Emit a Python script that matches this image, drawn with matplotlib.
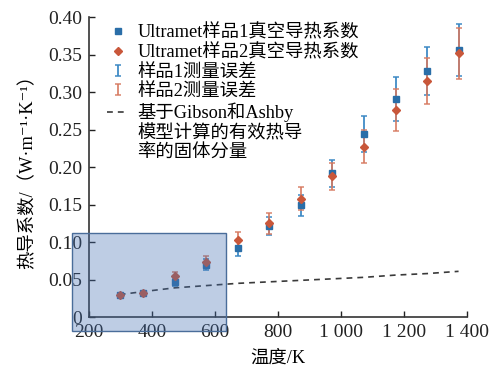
import numpy as np
import matplotlib
matplotlib.use("Agg")
import matplotlib.pyplot as plt
from matplotlib.patches import Rectangle
from matplotlib.lines import Line2D
from matplotlib.container import ErrorbarContainer
from matplotlib.legend_handler import HandlerErrorbar

plt.rcParams['font.family'] = ['Liberation Serif', 'Noto Sans CJK SC', 'DejaVu Sans']
plt.rcParams['axes.unicode_minus'] = False

# temperature (K)
temps = [298, 373, 473, 573, 673, 773, 873, 973, 1073, 1173, 1273, 1373]
# sample 1 / sample 2 vacuum thermal conductivity and errors
k1 = [0.029, 0.032, 0.047, 0.070, 0.092, 0.121, 0.149, 0.192, 0.244, 0.291, 0.328, 0.356]
k1_err = [0.003, 0.003, 0.005, 0.007, 0.010, 0.012, 0.014, 0.018, 0.024, 0.029, 0.032, 0.035]
k2 = [0.029, 0.032, 0.055, 0.074, 0.103, 0.125, 0.158, 0.188, 0.227, 0.276, 0.315, 0.352]
k2_err = [0.003, 0.003, 0.005, 0.008, 0.011, 0.014, 0.015, 0.018, 0.022, 0.028, 0.031, 0.034]
# Gibson & Ashby solid component
k_solid = [0.030, 0.034, 0.039, 0.042, 0.045, 0.047, 0.049, 0.051, 0.053, 0.056, 0.058, 0.061]

xticks = [200, 400, 600, 800, 1000, 1200, 1400]
xticklabels = ['200', '400', '600', '800', '1 000', '1 200', '1 400']
yticks = [0, 0.05, 0.10, 0.15, 0.20, 0.25, 0.30, 0.35, 0.40]
yticklabels = ['0', '0.05', '0.10', '0.15', '0.20', '0.25', '0.30', '0.35', '0.40']

model_label = ['基于Gibson和Ashby', '模型计算的有效热导', '率的固体分量']

# highlighted low-temperature region
box_x = (146, 635)
box_y = (-0.019, 0.112)

blue = '#2a6ea8'
red = '#c9573a'

fig = plt.figure(figsize=(4.99, 3.70), dpi=100)
ax = fig.add_axes([0.178, 0.143, 0.758, 0.811])

eb1 = ax.errorbar(temps, k1, yerr=k1_err, fmt='none', ecolor='#3b88c4', elinewidth=1.4,
                  capsize=2.5, capthick=1.2, alpha=0.9, label='样品1测量误差', zorder=2)
eb2 = ax.errorbar(temps, k2, yerr=k2_err, fmt='none', ecolor='#d77a60', elinewidth=1.4,
                  capsize=2.5, capthick=1.2, alpha=0.85, label='样品2测量误差', zorder=2)
s1, = ax.plot(temps, k1, 's', color=blue, ms=5, ls='none', label='Ultramet样品1真空导热系数', zorder=3)
s2, = ax.plot(temps, k2, 'D', color=red, ms=4.5, ls='none', label='Ultramet样品2真空导热系数', zorder=3)
ln, = ax.plot(temps, k_solid, ls=(0, (3.5, 3)), color='#3a3a3a', lw=1.2,
              label=model_label[0], zorder=2)

rect = Rectangle((box_x[0], box_y[0]), box_x[1] - box_x[0], box_y[1] - box_y[0],
                 facecolor='#4570b2', alpha=0.35, edgecolor='none', clip_on=False, zorder=4)
ax.add_patch(rect)
rect_edge = Rectangle((box_x[0], box_y[0]), box_x[1] - box_x[0], box_y[1] - box_y[0],
                      facecolor='none', edgecolor='#4a6d9a', lw=1.0, clip_on=False, zorder=4)
ax.add_patch(rect_edge)

ax.set_xlim(200, 1400)
ax.set_ylim(0, 0.40)
ax.set_xticks(xticks)
ax.set_xticklabels(xticklabels)
ax.set_yticks(yticks)
ax.set_yticklabels(yticklabels)
ax.tick_params(direction='in', length=4, width=1.0, labelsize=14, colors='#222222', pad=5)
for side in ['top', 'right']:
    ax.spines[side].set_visible(False)
for side in ['left', 'bottom']:
    ax.spines[side].set_linewidth(1.2)
    ax.spines[side].set_color('#333333')

ax.set_xlabel('温度/K', fontsize=13.2, labelpad=6)
ax.set_ylabel('热导系数/（W·m⁻¹·K⁻¹）', fontsize=13.2, labelpad=8)

# continuation lines of the model label get empty handles
blank = [Line2D([], [], ls='none') for _ in model_label[1:]]
handles = [s1, s2, eb1, eb2, ln] + blank
labels = [h.get_label() for h in [s1, s2, eb1, eb2, ln]] + model_label[1:]
ax.legend(handles, labels, loc='upper left', bbox_to_anchor=(0.048, 0.978),
          frameon=False, fontsize=13.2, borderpad=0, labelspacing=0.14, handlelength=1.15,
          handletextpad=0.5, borderaxespad=0,
          handler_map={ErrorbarContainer: HandlerErrorbar(yerr_size=0.3)})

fig.savefig('out.png', dpi=100)
